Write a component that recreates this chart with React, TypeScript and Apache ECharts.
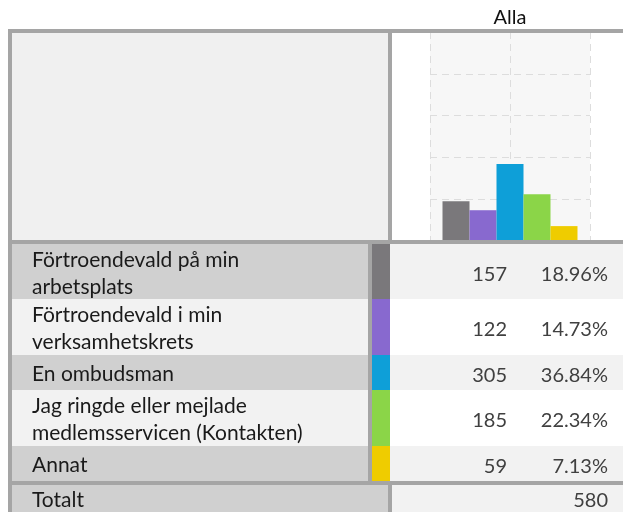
import React, { useEffect, useRef } from "react";
import * as echarts from "echarts";

const columnLabel = "Alla";
const categories = [
  "Förtroendevald på min\narbetsplats",
  "Förtroendevald i min\nverksamhetskrets",
  "En ombudsman",
  "Jag ringde eller mejlade\nmedlemsservicen (Kontakten)",
  "Annat",
];
const counts = [157, 122, 305, 185, 59];
const percents = [18.96, 14.73, 36.84, 22.34, 7.13];
const percentLabels = ["18.96%", "14.73%", "36.84%", "22.34%", "7.13%"];
const totalLabel = "Totalt";
const totalValue = 580;
const colors = ["#7a787b", "#8869cf", "#0e9fd8", "#8bd548", "#efcc00"];

const BORDER = "#a5a5a5";
const DARK = "#d0d0d0";
const LIGHT = "#f2f2f2";
const FONT = "Lato";
const LABEL_SIZE = 21;
const VALUE_SIZE = 20;

export default function App() {
  const ref = useRef<HTMLDivElement>(null);
  useEffect(() => {
    if (!ref.current) return;
    const chart = echarts.init(ref.current, null, { renderer: "svg" });
    const rowTops = [244, 299, 355, 390, 446, 481];
    const graphic: any[] = [];
    // header
    graphic.push({ type: "rect", shape: { x: 12, y: 33, width: 376, height: 207 }, style: { fill: "#f0f0f0" }, z: -10 });
    categories.forEach((c, i) => {
      const top = rowTops[i];
      const h = rowTops[i + 1] - top;
      const odd = i % 2 === 0;
      graphic.push({ type: "rect", shape: { x: 12, y: top, width: 356, height: h }, style: { fill: odd ? DARK : LIGHT }, z: -10 });
      graphic.push({ type: "rect", shape: { x: 368, y: top, width: 4, height: h }, style: { fill: BORDER }, z: -9 });
      graphic.push({ type: "rect", shape: { x: 372, y: top, width: 18, height: h }, style: { fill: colors[i] }, z: -9 });
      graphic.push({ type: "rect", shape: { x: 390, y: top, width: 233, height: h }, style: { fill: odd ? LIGHT : "#ffffff" }, z: -10 });
      const cy = top + h / 2;
      graphic.push({
        type: "text",
        x: 32,
        y: cy,
        style: { text: c, fontFamily: FONT, fontSize: LABEL_SIZE, lineHeight: 27, fill: "#1a1a1a", textVerticalAlign: "middle", textAlign: "left" },
        z: 10,
      });
      graphic.push({
        type: "text",
        x: 507,
        y: cy + 1,
        style: { text: String(counts[i]), fontFamily: FONT, fontSize: VALUE_SIZE, fill: "#404040", textVerticalAlign: "middle", textAlign: "right" },
        z: 10,
      });
      graphic.push({
        type: "text",
        x: 608,
        y: cy + 1,
        style: { text: percentLabels[i], fontFamily: FONT, fontSize: VALUE_SIZE, fill: "#404040", textVerticalAlign: "middle", textAlign: "right" },
        z: 10,
      });
    });
    // total row
    graphic.push({ type: "rect", shape: { x: 12, y: 485, width: 376, height: 27 }, style: { fill: DARK }, z: -10 });
    graphic.push({ type: "rect", shape: { x: 392, y: 485, width: 231, height: 27 }, style: { fill: LIGHT }, z: -10 });
    graphic.push({ type: "rect", shape: { x: 388, y: 485, width: 4, height: 27 }, style: { fill: BORDER }, z: 50 });
    graphic.push({
      type: "text", x: 32, y: 498,
      style: { text: totalLabel, fontFamily: FONT, fontSize: LABEL_SIZE, fill: "#1a1a1a", textVerticalAlign: "middle", textAlign: "left" },
      z: 10,
    });
    graphic.push({
      type: "text", x: 608, y: 499,
      style: { text: String(totalValue), fontFamily: FONT, fontSize: VALUE_SIZE, fill: "#404040", textVerticalAlign: "middle", textAlign: "right" },
      z: 10,
    });
    // borders
    graphic.push({ type: "rect", shape: { x: 8, y: 29, width: 615, height: 4 }, style: { fill: BORDER }, z: 50 });
    graphic.push({ type: "rect", shape: { x: 8, y: 29, width: 4, height: 483 }, style: { fill: BORDER }, z: 50 });
    graphic.push({ type: "rect", shape: { x: 388, y: 29, width: 4, height: 215 }, style: { fill: BORDER }, z: 50 });
    graphic.push({ type: "rect", shape: { x: 8, y: 240, width: 615, height: 4 }, style: { fill: BORDER }, z: 50 });
    graphic.push({ type: "rect", shape: { x: 8, y: 481, width: 615, height: 4 }, style: { fill: BORDER }, z: 50 });

    chart.setOption({
      animation: false,
      grid: { left: 430, top: 32, width: 160, height: 209, show: true, backgroundColor: "#f7f7f7", borderWidth: 0 },
      xAxis: [
        {
          type: "category",
          data: [columnLabel],
          position: "top",
          axisLine: { show: false },
          axisTick: { show: false },
          axisLabel: { show: true, margin: 6, fontFamily: FONT, fontSize: 20, color: "#111111" },
          splitLine: { show: false },
        },
        {
          type: "value",
          min: 0,
          max: 2,
          interval: 1,
          axisLine: { show: false },
          axisTick: { show: false },
          axisLabel: { show: false },
          splitLine: { show: true, lineStyle: { color: "#dddddd", type: [7, 5], width: 1 } },
        },
      ],
      yAxis: {
        type: "value",
        min: 0,
        max: 100,
        interval: 20,
        axisLine: { show: false },
        axisTick: { show: false },
        axisLabel: { show: false },
        splitLine: { show: true, lineStyle: { color: "#dddddd", type: [7, 5], width: 1 } },
      },
      series: categories.map((c, i) => ({
        type: "bar",
        name: c,
        xAxisIndex: 0,
        data: [percents[i]],
        barWidth: 27,
        barGap: "0%",
        itemStyle: { color: colors[i] },
        z: 5,
      })),
      graphic,
    });
    return () => chart.dispose();
  }, []);
  return <div ref={ref} style={{ position: "fixed", left: 0, top: 0, width: 623, height: 512 }} />;
}
